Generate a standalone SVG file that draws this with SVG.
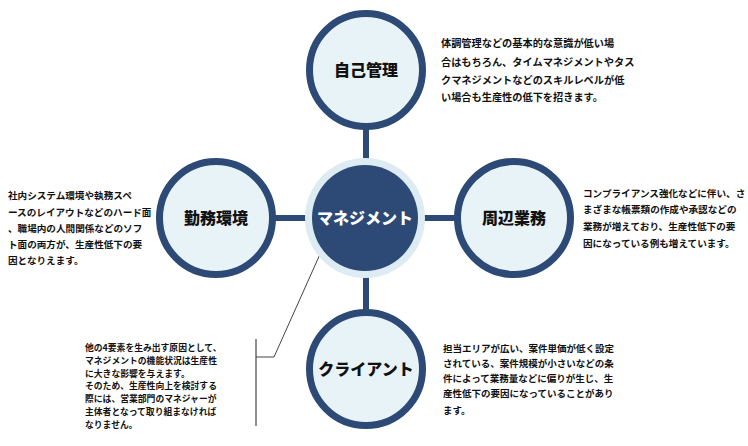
<svg xmlns="http://www.w3.org/2000/svg" width="748" height="446" viewBox="0 0 748 446">
<style>
.ring{fill:#e8f3f8;stroke:#2c4a75;stroke-width:7}
.lbl{font-family:"Noto Sans CJK JP","Noto Sans",sans-serif;font-weight:900;font-size:16px;fill:#111;text-anchor:middle}
.desc{font-family:"Noto Sans CJK JP","Noto Sans",sans-serif;font-weight:bold;fill:#111}
.con{stroke:#2c4a75;stroke-width:6;fill:none}
</style>
<rect width="748" height="446" fill="#fff"/>
<g id="connectors">
<line class="con" x1="366" y1="126" x2="366" y2="160"/>
<line class="con" x1="366" y1="276" x2="366" y2="313"/>
<line class="con" x1="272" y1="218" x2="306" y2="218"/>
<line class="con" x1="424" y1="218" x2="457" y2="218"/>
<polyline points="321,252 274,357 256,357" fill="none" stroke="#444" stroke-width="1"/>
<line x1="256" y1="339" x2="256" y2="426" stroke="#444" stroke-width="1.2"/>
</g>
<g id="management">
<circle cx="365" cy="218" r="60" fill="#dcecf2"/>
<circle cx="365" cy="218" r="53" fill="#2c4a75"/>
<text class="lbl" x="365" y="223.5" style="fill:#fff">マネジメント</text>
</g>
<g id="self">
<circle class="ring" cx="366" cy="70" r="56.5"/>
<text class="lbl" x="366" y="75.5">自己管理</text>
</g>
<g id="environment">
<circle class="ring" cx="216" cy="218" r="56.5"/>
<text class="lbl" x="216" y="223.5">勤務環境</text>
</g>
<g id="peripheral">
<circle class="ring" cx="514" cy="218" r="56.5"/>
<text class="lbl" x="514" y="223.5">周辺業務</text>
</g>
<g id="client">
<circle class="ring" cx="366" cy="369" r="56.5"/>
<text class="lbl" x="366" y="374.5">クライアント</text>
</g>
<g id="desc-self" class="desc" font-size="10.2">
<text x="441" y="47">体調管理などの基本的な意識が低い場</text>
<text x="441" y="66">合はもちろん、タイムマネジメントやタス</text>
<text x="441" y="84">クマネジメントなどのスキルレベルが低</text>
<text x="441" y="101">い場合も生産性の低下を招きます。</text>
</g>
<g id="desc-environment" class="desc" font-size="9.6">
<text x="8" y="199">社内システム環境や執務スペ</text>
<text x="8" y="215.5">ースのレイアウトなどのハード面</text>
<text x="8" y="231.5">、職場内の人間関係などのソフ</text>
<text x="8" y="248">ト面の両方が、生産性低下の要</text>
<text x="8" y="264">因となりえます。</text>
</g>
<g id="desc-peripheral" class="desc" font-size="9.6">
<text x="583" y="197">コンプライアンス強化などに伴い、さ</text>
<text x="583" y="213">まざまな帳票類の作成や承認などの</text>
<text x="583" y="230">業務が増えており、生産性低下の要</text>
<text x="583" y="246.5">因になっている例も増えています。</text>
</g>
<g id="desc-client" class="desc" font-size="9.5">
<text x="443" y="352">担当エリアが広い、案件単価が低く設定</text>
<text x="443" y="367">されている、案件規模が小さいなどの条</text>
<text x="443" y="382">件によって業務量などに偏りが生じ、生</text>
<text x="443" y="397">産性低下の要因になっていることがあり</text>
<text x="443" y="413.5">ます。</text>
</g>
<g id="desc-management" class="desc" font-size="8.8">
<text x="85" y="351">他の4要素を生み出す原因として、</text>
<text x="85" y="363.8">マネジメントの機能状況は生産性</text>
<text x="85" y="376.6">に大きな影響を与えます。</text>
<text x="85" y="389.4">そのため、生産性向上を検討する</text>
<text x="85" y="402.2">際には、営業部門のマネジャーが</text>
<text x="85" y="415">主体者となって取り組まなければ</text>
<text x="85" y="427.8">なりません。</text>
</g>
</svg>
